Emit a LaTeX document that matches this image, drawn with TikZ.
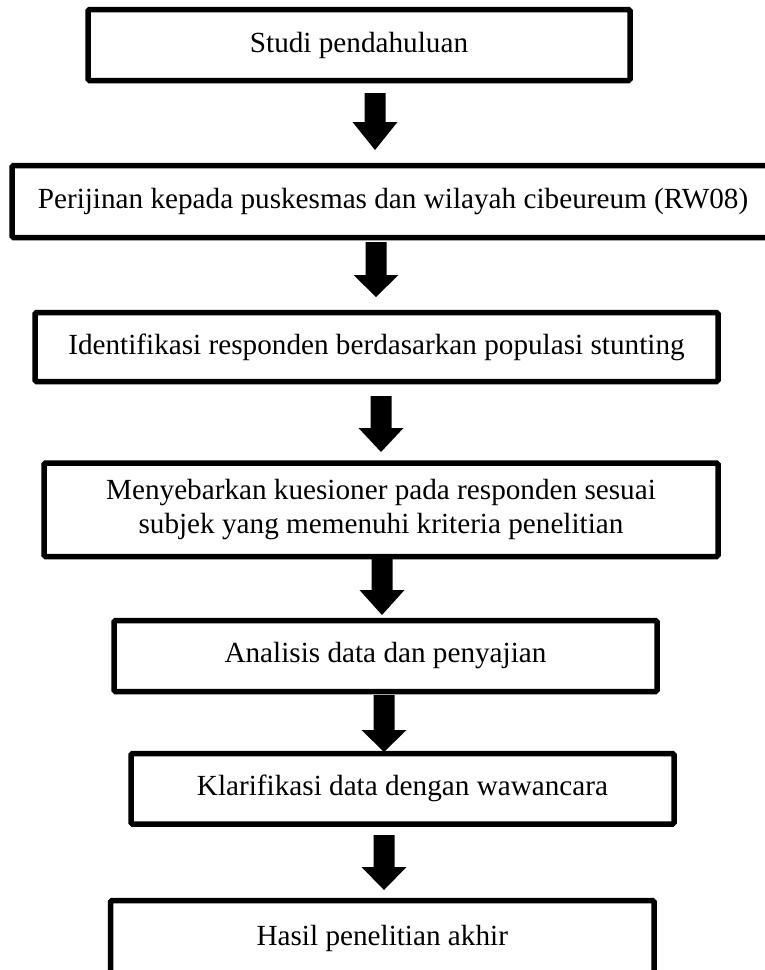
\documentclass[tikz,border=0pt]{standalone}
\usepackage{fontspec}
\setmainfont{Liberation Serif}
\newcommand\barrow[3]{%
  \fill[black] ([xshift=-10.5pt]#1) -- ([xshift=10.5pt]#1) -- ([xshift=10.5pt]#2)
    -- ([xshift=22.5pt]#2) -- (#3) -- ([xshift=-22.5pt]#2) -- ([xshift=-10.5pt]#2) -- cycle;}
\begin{document}
\begin{tikzpicture}[x=1pt,y=-1pt,
  stepbox/.style={draw=black, line width=5.5pt, rounded corners=1.5pt, rectangle,
    inner sep=0pt, align=center, font=\fontsize{29.2}{34}\selectfont}]
\useasboundingbox (0,0) rectangle (765,970);
\clip (0,0) rectangle (765,970);
\node[stepbox, minimum width=542pt, minimum height=71pt] (b1) at (359,45) {Studi pendahuluan};
\node[stepbox, minimum width=762pt, minimum height=72pt] (b2) at (393,201.5) {Perijinan kepada puskesmas dan wilayah cibeureum (RW08)};
\node[stepbox, minimum width=683pt, minimum height=69pt] (b3) at (376.5,347) {Identifikasi responden berdasarkan populasi stunting};
\node[stepbox, minimum width=674pt, minimum height=93.5pt] (b4) at (381,509.75) {Menyebarkan kuesioner pada responden sesuai\\subjek yang memenuhi kriteria penelitian};
\node[stepbox, minimum width=543pt, minimum height=71pt] (b5) at (385.5,656) {Analisis data dan penyajian};
\node[stepbox, minimum width=543pt, minimum height=70.5pt] (b6) at (402.5,788.75) {Klarifikasi data dengan wawancara};
\node[stepbox, minimum width=543.5pt, minimum height=75pt] (b7) at (382.25,938) {Hasil penelitian akhir};
% arrows
\coordinate (a1s) at (375,93);  \coordinate (a1b) at (375,122); \coordinate (a1t) at (375,150);
\coordinate (a2s) at (376,242); \coordinate (a2b) at (376,275); \coordinate (a2t) at (376,297);
\coordinate (a3s) at (381,396); \coordinate (a3b) at (381,428); \coordinate (a3t) at (381,452);
\coordinate (a4s) at (382,559); \coordinate (a4b) at (382,590); \coordinate (a4t) at (382,615);
\coordinate (a5s) at (384,695); \coordinate (a5b) at (384,730); \coordinate (a5t) at (384,752);
\coordinate (a6s) at (384,835); \coordinate (a6b) at (384,867); \coordinate (a6t) at (384,890);
\barrow{a1s}{a1b}{a1t}
\barrow{a2s}{a2b}{a2t}
\barrow{a3s}{a3b}{a3t}
\barrow{a4s}{a4b}{a4t}
\barrow{a5s}{a5b}{a5t}
\barrow{a6s}{a6b}{a6t}
\end{tikzpicture}
\end{document}
